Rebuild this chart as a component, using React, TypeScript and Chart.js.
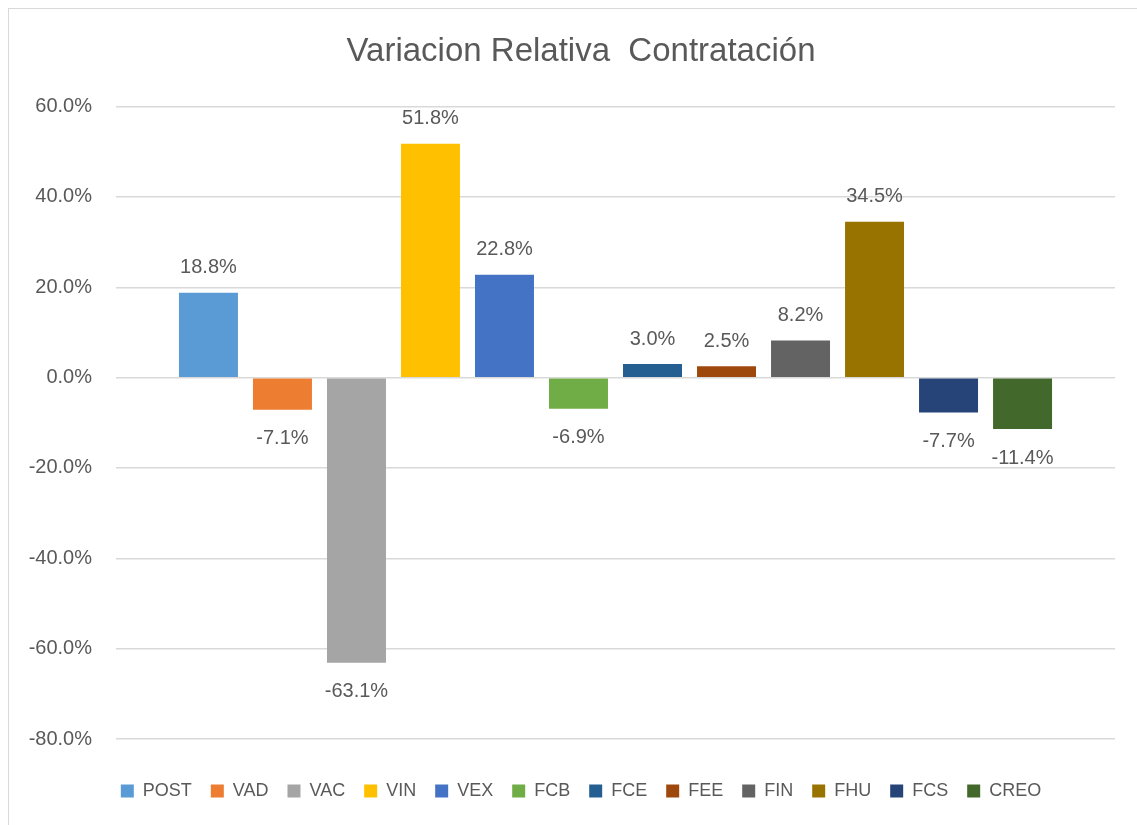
import React, { useEffect, useRef } from "react";
import { Chart, registerables } from "chart.js";

Chart.register(...registerables);

const seriesNames = ["POST", "VAD", "VAC", "VIN", "VEX", "FCB", "FCE", "FEE", "FIN", "FHU", "FCS", "CREO"];
const seriesValues = [18.8, -7.1, -63.1, 51.8, 22.8, -6.9, 3.0, 2.5, 8.2, 34.5, -7.7, -11.4];
const seriesColors = [
  "#5B9BD5", "#ED7D31", "#A5A5A5", "#FFC000", "#4472C4", "#70AD47",
  "#255E91", "#9E480E", "#636363", "#997300", "#264478", "#43682B",
];
const categories = [""];
const titleText = "Variacion Relativa  Contratación";

const FONT = "'Liberation Sans', Arial, sans-serif";
const TEXT = "#595959";

const labelPlugin = {
  id: "valueLabels",
  afterDatasetsDraw(chart: any) {
    const ctx = chart.ctx;
    ctx.save();
    ctx.font = `20px ${FONT}`;
    ctx.fillStyle = TEXT;
    ctx.textAlign = "center";
    chart.data.datasets.forEach((ds: any, i: number) => {
      const meta = chart.getDatasetMeta(i);
      meta.data.forEach((bar: any, j: number) => {
        const v = ds.data[j];
        const txt = v.toFixed(1) + "%";
        if (v >= 0) {
          ctx.textBaseline = "bottom";
          ctx.fillText(txt, bar.x, bar.y - 15);
        } else {
          ctx.textBaseline = "top";
          ctx.fillText(txt, bar.x, bar.y + 19);
        }
      });
    });
    ctx.restore();
  },
};

export default function App() {
  const ref = useRef<HTMLCanvasElement>(null);
  useEffect(() => {
    if (!ref.current) return;
    const chart = new Chart(ref.current, {
      type: "bar",
      data: {
        labels: categories,
        datasets: seriesNames.map((name, i) => ({
          label: name,
          data: [seriesValues[i]],
          backgroundColor: seriesColors[i],
          borderWidth: 0,
          categoryPercentage: 0.889,
          barPercentage: 0.797,
        })),
      },
      options: {
        responsive: true,
        maintainAspectRatio: false,
        animation: false,
        layout: { padding: { left: 16, right: 0, top: 0, bottom: 15 } },
        plugins: {
          title: {
            display: true,
            text: titleText,
            color: TEXT,
            font: { family: FONT, size: 33, weight: "normal" },
            padding: { top: 23, bottom: 35 },
          },
          legend: {
            position: "bottom",
            labels: {
              boxWidth: 13,
              boxHeight: 13,
              padding: 19,
              color: TEXT,
              font: { family: FONT, size: 18 },
            },
          },
          tooltip: { enabled: false },
        },
        scales: {
          x: {
            ticks: { display: false },
            grid: { display: false },
            border: { display: false },
            afterFit: (s: any) => { s.height = 24; },
          },
          y: {
            min: -80,
            max: 60,
            ticks: {
              stepSize: 20,
              padding: 24,
              color: TEXT,
              font: { family: FONT, size: 20 },
              callback: (v: any) => Number(v).toFixed(1) + "%",
            },
            grid: { color: "#d9d9d9", lineWidth: 1.5, drawTicks: false },
            border: { display: false },
            afterFit: (s: any) => { s.width = 91; },
          },
          yRight: {
            type: "linear",
            position: "right",
            display: true,
            ticks: { display: false },
            grid: { display: false, drawTicks: false },
            border: { display: false },
            afterFit: (s: any) => { s.width = 22; },
          },
        },
      },
      plugins: [labelPlugin],
    });
    return () => chart.destroy();
  }, []);

  return (
    <div
      style={{
        position: "fixed",
        left: 8,
        top: 8,
        width: 1129,
        height: 817,
        boxSizing: "border-box",
        borderTop: "1px solid #d9d9d9",
        borderLeft: "1px solid #d9d9d9",
        background: "#fff",
      }}
    >
      <div style={{ position: "relative", width: 1128, height: 816 }}>
        <canvas ref={ref} />
      </div>
    </div>
  );
}
